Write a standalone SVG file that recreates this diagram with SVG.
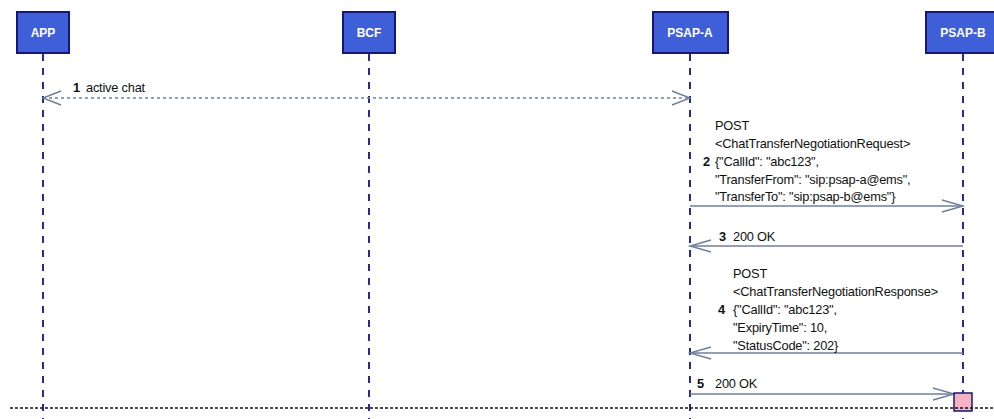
<svg xmlns="http://www.w3.org/2000/svg" width="994" height="419" viewBox="0 0 994 419">
<style>
.box{fill:#3f5fd9;stroke:#16167a;stroke-width:2}
.bl{font-family:"Liberation Sans",Arial,sans-serif;font-size:12px;font-weight:bold;fill:#fff;text-anchor:middle}
.life{stroke:#2a2a8c;stroke-width:2;stroke-dasharray:7 7;fill:none}
.msg{stroke:#6f7f98;stroke-width:1.4;fill:none}
.dash{stroke-dasharray:3 3}
.t{font-family:"Liberation Sans",Arial,sans-serif;font-size:12.8px;fill:#111;letter-spacing:-0.2px}
.n{font-weight:bold}
</style>
<rect width="994" height="419" fill="#fff"/>
<g id="APP"><rect class="box" x="17" y="12" width="52" height="41"/><text class="bl" x="43" y="37">APP</text><line class="life" x1="43" y1="54" x2="43" y2="419"/></g>
<g id="BCF"><rect class="box" x="343" y="12" width="52" height="41"/><text class="bl" x="369" y="37">BCF</text><line class="life" x1="369" y1="54" x2="369" y2="419"/></g>
<g id="PSAP-A"><rect class="box" x="653" y="12" width="75" height="41"/><text class="bl" x="690" y="37">PSAP-A</text><line class="life" x1="690" y1="54" x2="690" y2="419"/></g>
<g id="PSAP-B"><rect class="box" x="926" y="12" width="75" height="41"/><text class="bl" x="963" y="37">PSAP-B</text><line class="life" x1="963" y1="54" x2="963" y2="419"/></g>
<g id="connectors">
<line class="msg dash" x1="43" y1="98" x2="690" y2="98"/>
<polyline class="msg" points="61,91 43,98 61,105"/>
<polyline class="msg" points="672,91 690,98 672,105"/>
<line class="msg" x1="690" y1="206" x2="963" y2="206"/>
<polyline class="msg" points="942,200 963,206 942,212"/>
<line class="msg" x1="963" y1="246" x2="690" y2="246"/>
<polyline class="msg" points="711,240 690,246 711,252"/>
<line class="msg" x1="963" y1="353" x2="690" y2="353"/>
<polyline class="msg" points="711,347 690,353 711,359"/>
<line class="msg" x1="690" y1="394" x2="954" y2="394"/>
<polyline class="msg" points="933,388 954,394 933,400"/>
</g>
<g id="labels">
<text class="t" x="73" y="92"><tspan class="n">1</tspan><tspan x="86">active chat</tspan></text>
<text class="t" x="715" y="130">POST</text>
<text class="t" x="715" y="148">&lt;ChatTransferNegotiationRequest&gt;</text>
<text class="t" x="703" y="166"><tspan class="n">2</tspan><tspan x="715">{"CallId": "abc123",</tspan></text>
<text class="t" x="715" y="184">"TransferFrom": "sip:psap-a@ems",</text>
<text class="t" x="715" y="201">"TransferTo": "sip:psap-b@ems"}</text>
<text class="t" x="719" y="241"><tspan class="n">3</tspan><tspan x="733">200 OK</tspan></text>
<text class="t" x="733" y="278">POST</text>
<text class="t" x="733" y="296">&lt;ChatTransferNegotiationResponse&gt;</text>
<text class="t" x="718" y="314"><tspan class="n">4</tspan><tspan x="733">{"CallId": "abc123",</tspan></text>
<text class="t" x="733" y="332">"ExpiryTime": 10,</text>
<text class="t" x="733" y="350">"StatusCode": 202}</text>
<text class="t" x="697" y="388"><tspan class="n">5</tspan><tspan x="715">200 OK</tspan></text>
</g>
<rect x="954" y="393" width="18" height="18" fill="#f4b3c2" stroke="#16167a" stroke-width="1.5"/>
<line x1="10" y1="408" x2="994" y2="408" stroke="#111" stroke-width="1.5" stroke-dasharray="3 2"/>
</svg>
